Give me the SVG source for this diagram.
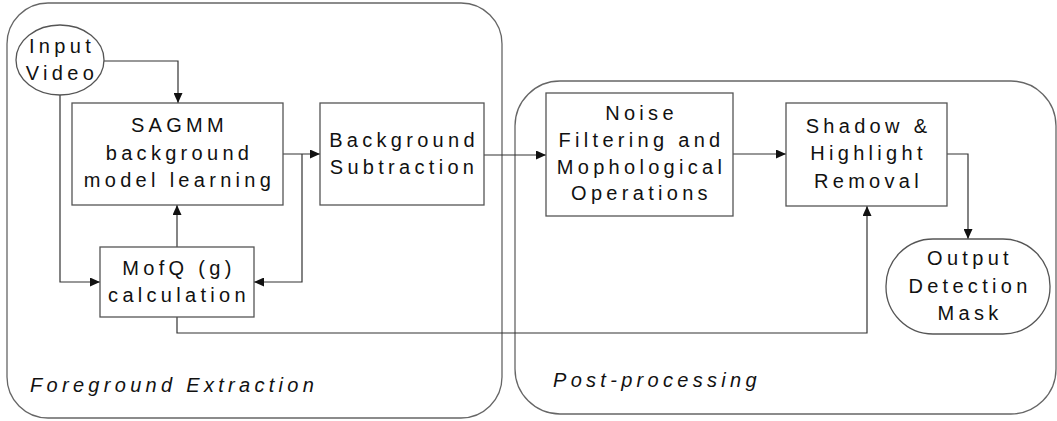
<svg xmlns="http://www.w3.org/2000/svg" width="1057" height="421" viewBox="0 0 1057 421">
  <style>
    .frame { fill: none; stroke: #666; stroke-width: 1.3; }
    .box { fill: #fff; stroke: #555; stroke-width: 1.3; }
    .wire { fill: none; stroke: #333; stroke-width: 1.2; }
    text { font-family: "Liberation Sans", Arial, sans-serif; font-size: 20px; letter-spacing: 4.3px; fill: #111; }
    .c { text-anchor: middle; }
    .cap { font-style: italic; }
  </style>
  <defs>
    <marker id="arrow" viewBox="0 0 10 9" refX="10" refY="4.5" markerWidth="10" markerHeight="9" markerUnits="userSpaceOnUse" orient="auto">
      <path d="M0,0 L10,4.5 L0,9 z" fill="#111"/>
    </marker>
  </defs>

  <rect fill="#fff" x="0" y="0" width="1057" height="421"/>

  <!-- stage frames -->
  <g id="foreground-extraction">
    <rect class="frame" x="7" y="3" width="495" height="415" rx="41" ry="41"/>
    <text class="cap" x="30" y="392">Foreground Extraction</text>
  </g>
  <g id="post-processing">
    <rect class="frame" x="515" y="81" width="541" height="333" rx="45" ry="45"/>
    <text class="cap" x="553" y="387">Post-processing</text>
  </g>

  <!-- connectors -->
  <g id="connectors">
    <polyline class="wire" points="104,61 178,61 178,103" marker-end="url(#arrow)"/>
    <polyline class="wire" points="60,95 60,282 100,282" marker-end="url(#arrow)"/>
    <line class="wire" x1="177" y1="247" x2="177" y2="205" marker-end="url(#arrow)"/>
    <line class="wire" x1="283" y1="154" x2="320" y2="154" marker-end="url(#arrow)"/>
    <polyline class="wire" points="302,154 302,282 254,282" marker-end="url(#arrow)"/>
    <line class="wire" x1="484" y1="155" x2="546" y2="155" marker-end="url(#arrow)"/>
    <line class="wire" x1="733" y1="154" x2="786" y2="154" marker-end="url(#arrow)"/>
    <polyline class="wire" points="947,154 968,154 968,239" marker-end="url(#arrow)"/>
    <polyline class="wire" points="177,317 177,333 867,333 867,206" marker-end="url(#arrow)"/>
  </g>

  <!-- nodes -->
  <g id="input-video">
    <ellipse class="box" cx="60" cy="60" rx="44" ry="35"/>
    <text class="c" x="62" y="53">Input</text>
    <text class="c" x="62" y="80">Video</text>
  </g>
  <g id="sagmm">
    <rect class="box" x="72" y="103" width="211" height="102"/>
    <text class="c" x="179.5" y="132">SAGMM</text>
    <text class="c" x="179.5" y="160">background</text>
    <text class="c" x="179.5" y="187">model learning</text>
  </g>
  <g id="mofq">
    <rect class="box" x="100" y="247" width="154" height="70"/>
    <text class="c" x="179" y="275">MofQ (g)</text>
    <text class="c" x="179" y="302">calculation</text>
  </g>
  <g id="background-subtraction">
    <rect class="box" x="320" y="103" width="164" height="102"/>
    <text class="c" x="404" y="147">Background</text>
    <text class="c" x="404" y="174">Subtraction</text>
  </g>
  <g id="noise-filtering">
    <rect class="box" x="546" y="93" width="187" height="123"/>
    <text class="c" x="641.5" y="120">Noise</text>
    <text class="c" x="641.5" y="147">Filtering and</text>
    <text class="c" x="641.5" y="174">Mophological</text>
    <text class="c" x="641.5" y="200">Operations</text>
  </g>
  <g id="shadow-removal">
    <rect class="box" x="786" y="103" width="161" height="103"/>
    <text class="c" x="868.5" y="133">Shadow &amp;</text>
    <text class="c" x="868.5" y="160">Highlight</text>
    <text class="c" x="868.5" y="188">Removal</text>
  </g>
  <g id="output-mask">
    <rect class="box" x="886" y="239" width="164" height="95" rx="47" ry="47"/>
    <text class="c" x="970" y="265">Output</text>
    <text class="c" x="970" y="293">Detection</text>
    <text class="c" x="970" y="320">Mask</text>
  </g>
</svg>
